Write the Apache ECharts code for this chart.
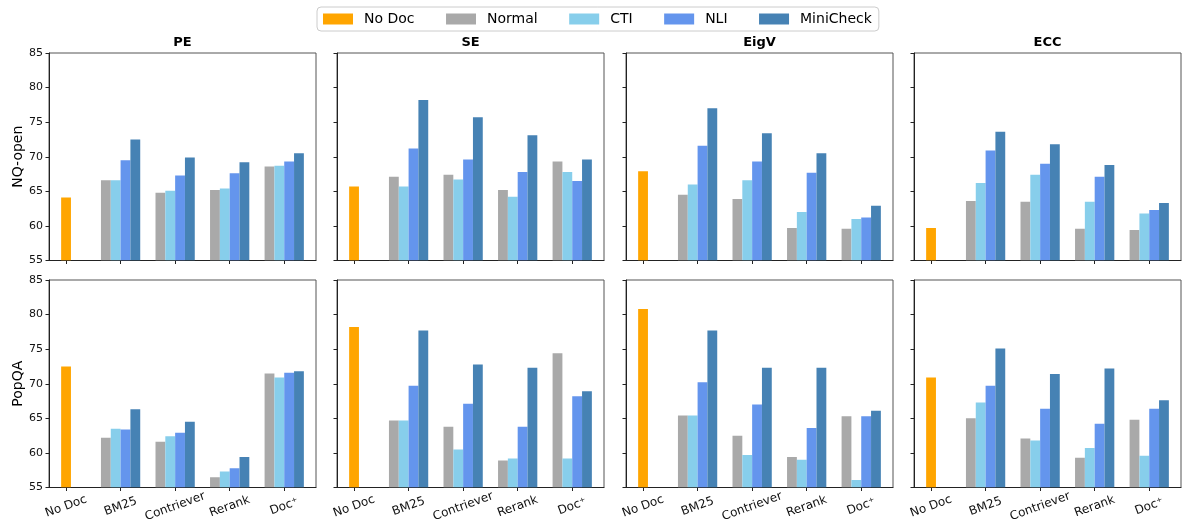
<!DOCTYPE html>
<html>
<head>
<meta charset="utf-8">
<script src="https://cdn.jsdelivr.net/npm/echarts@6/dist/echarts.min.js"></script>
<style>
html,body{margin:0;padding:0;background:#fff;}
#chart{width:1182px;height:527px;}
</style>
</head>
<body>
<div id="chart"></div>
<script>
// ---------------- data ----------------
const categories = ['No Doc', 'BM25', 'Contriever', 'Rerank', 'Doc\u207A'];
const methods = ['PE', 'SE', 'EigV', 'ECC'];
const datasets = ['NQ-open', 'PopQA'];
const variants = ['Normal', 'CTI', 'NLI', 'MiniCheck'];
const yTicks = [55, 60, 65, 70, 75, 80, 85];

// No-document baseline per method (PE, SE, EigV, ECC)
const noDocNQ    = [64.1, 65.7, 67.9, 59.7];
const noDocPopQA = [72.5, 78.2, 80.8, 70.9];

// rows: Normal, CTI, NLI, MiniCheck ; columns: BM25, Contriever, Rerank, Doc+
const nqPE   = [[66.6, 64.8, 65.2, 68.6], [66.6, 65.1, 65.4, 68.7], [69.5, 67.3, 67.6, 69.3], [72.5, 69.9, 69.2, 70.5]];
const nqSE   = [[67.1, 67.4, 65.2, 69.3], [65.7, 66.7, 64.2, 67.8], [71.2, 69.6, 67.8, 66.5], [78.2, 75.7, 73.1, 69.6]];
const nqEigV = [[64.5, 63.9, 59.7, 59.6], [66.0, 66.6, 62.0, 61.0], [71.6, 69.3, 67.7, 61.2], [77.0, 73.4, 70.5, 62.9]];
const nqECC  = [[63.6, 63.5, 59.6, 59.4], [66.2, 67.4, 63.5, 61.8], [70.9, 69.0, 67.1, 62.3], [73.6, 71.8, 68.8, 63.3]];

const popPE   = [[62.2, 61.6, 56.5, 71.5], [63.5, 62.4, 57.3, 70.9], [63.4, 62.9, 57.8, 71.6], [66.3, 64.5, 59.4, 71.8]];
const popSE   = [[64.7, 63.8, 58.9, 74.4], [64.7, 60.5, 59.2, 59.2], [69.7, 67.1, 63.8, 68.2], [77.7, 72.8, 72.3, 68.9]];
const popEigV = [[65.4, 62.5, 59.4, 65.3], [65.4, 59.7, 59.0, 56.1], [70.2, 67.0, 63.6, 65.3], [77.7, 72.3, 72.3, 66.1]];
const popECC  = [[65.0, 62.1, 59.3, 64.8], [67.3, 61.8, 60.7, 59.6], [69.7, 66.4, 64.2, 66.4], [75.1, 71.4, 72.2, 67.6]];

// ---------------- styling / layout ----------------
const panelData = [
  [nqPE, nqSE, nqEigV, nqECC],
  [popPE, popSE, popEigV, popECC]
];
const noDocData = [noDocNQ, noDocPopQA];
const colors = { 'No Doc': '#FFA500', 'Normal': '#A9A9A9', 'CTI': '#87CEEB', 'NLI': '#6495ED', 'MiniCheck': '#4682B4' };
const BAR_W = 0.18;
const Y_MIN = 55, Y_MAX = 85;
const X_MIN = -0.3125, X_MAX = 4.5825;
const FONT = 'DejaVu Sans';

const colLefts = [49, 337, 626, 914];
const rowTops = [53, 280];
const gridW = 267, gridH = 207.5;

const grids = [], xAxes = [], yAxes = [], series = [], graphics = [];

function makeRender(offset) {
  return function (params, api) {
    const x = api.value(0) + offset;
    const p0 = api.coord([x - BAR_W / 2, api.value(1)]);
    const p1 = api.coord([x + BAR_W / 2, Y_MIN]);
    return {
      type: 'rect',
      shape: { x: p0[0], y: p0[1], width: p1[0] - p0[0], height: p1[1] - p0[1] },
      style: { fill: api.visual('color') }
    };
  };
}

let gi = 0;
for (let r = 0; r < 2; r++) {
  for (let c = 0; c < 4; c++) {
    grids.push({
      left: colLefts[c], top: rowTops[r], width: gridW, height: gridH,
      show: true, borderColor: '#555', borderWidth: 1, backgroundColor: 'transparent'
    });
    xAxes.push({
      type: 'value', gridIndex: gi, min: X_MIN, max: X_MAX,
      axisLine: { show: true, onZero: false, lineStyle: { color: '#222', width: 1 } },
      axisTick: { show: true, customValues: [0, 1, 2, 3, 4], length: 3.5, lineStyle: { color: '#222' } },
      axisLabel: {
        show: r === 1, customValues: [0, 1, 2, 3, 4], rotate: 20, align: 'center', verticalAlign: 'middle',
        margin: 19, fontSize: 12, color: '#111', fontFamily: FONT,
        formatter: v => categories[Math.round(v)]
      },
      splitLine: { show: false }
    });
    const ya = {
      type: 'value', gridIndex: gi, min: Y_MIN, max: Y_MAX, interval: 5,
      axisLine: { show: true, onZero: false, lineStyle: { color: '#222', width: 1 } },
      axisTick: { show: true, length: 3.5, lineStyle: { color: '#222' } },
      axisLabel: { show: c === 0, fontSize: 11, color: '#111', fontFamily: FONT, margin: 6 },
      splitLine: { show: false }
    };
    if (c === 0) {
      ya.name = datasets[r];
      ya.nameLocation = 'middle';
      ya.nameRotate = 90;
      ya.nameGap = 24;
      ya.nameTextStyle = { fontSize: 14, color: '#000', fontFamily: FONT };
    }
    yAxes.push(ya);

    // No Doc bar
    series.push({
      type: 'custom', name: 'No Doc', xAxisIndex: gi, yAxisIndex: gi,
      itemStyle: { color: colors['No Doc'] },
      renderItem: makeRender(0), encode: { x: 0, y: 1 }, clip: true,
      data: [[0, noDocData[r][c]]]
    });
    // grouped bars
    const arr = panelData[r][c];
    variants.forEach((v, j) => {
      const off = (j - 1.5) * BAR_W;
      series.push({
        type: 'custom', name: v, xAxisIndex: gi, yAxisIndex: gi,
        itemStyle: { color: colors[v] },
        renderItem: makeRender(off), encode: { x: 0, y: 1 }, clip: true,
        data: arr[j].map((val, k) => [k + 1, val])
      });
    });
    gi++;
  }
}

methods.forEach((m, c) => {
  graphics.push({
    type: 'text', x: colLefts[c] + gridW / 2, y: 43,
    style: { text: m, font: 'bold 13px "DejaVu Sans"', fill: '#000', align: 'center', verticalAlign: 'middle' }
  });
});

const chart = echarts.init(document.getElementById('chart'), null, { renderer: 'canvas' });
chart.setOption({
  animation: false,
  backgroundColor: '#fff',
  textStyle: { fontFamily: FONT },
  legend: {
    left: 317, top: 7,
    padding: [5, 7, 5, 6],
    borderColor: '#cccccc', borderWidth: 1, borderRadius: 4,
    backgroundColor: '#fff',
    itemWidth: 30, itemHeight: 11, itemGap: 31.5,
    textStyle: { fontSize: 14, color: '#000', fontFamily: FONT, padding: [0, 0, 0, 6] },
    data: ['No Doc', 'Normal', 'CTI', 'NLI', 'MiniCheck'].map(n => ({ name: n, icon: 'rect' }))
  },
  grid: grids,
  xAxis: xAxes,
  yAxis: yAxes,
  series: series,
  graphic: graphics
});
</script>
</body>
</html>
